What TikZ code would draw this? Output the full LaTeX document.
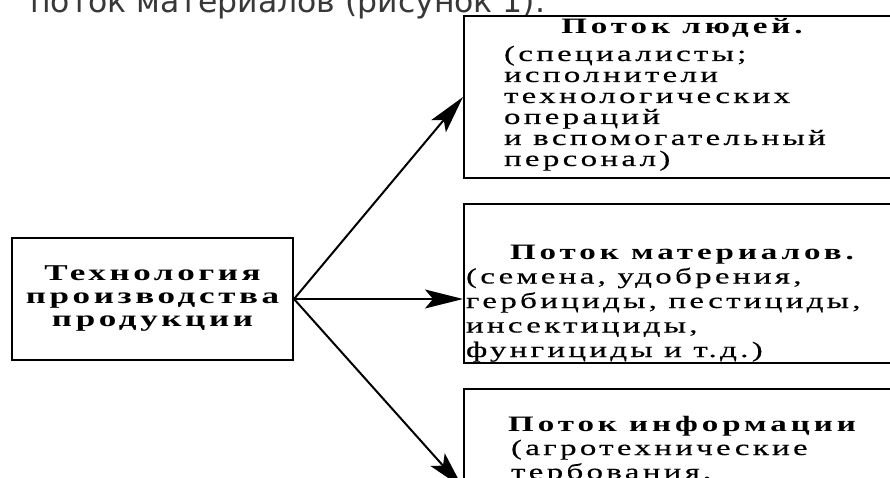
\documentclass[tikz,border=0pt]{standalone}
\usepackage{fontspec}
\setmainfont{Liberation Serif}
\newfontfamily\captionfont{DejaVu Sans}
\newfontfamily\flowfont[LetterSpace=15,FakeStretch=1.5,FakeBold=0.4]{Liberation Serif}
\newfontfamily\titlefont[LetterSpace=18,FakeStretch=1.5]{Liberation Serif}
\newfontfamily\techfont[LetterSpace=16,FakeStretch=1.55]{Liberation Serif}
\usetikzlibrary{arrows.meta,calc}

\tikzset{
  flowbox/.style={draw, line width=2pt, inner sep=0pt, anchor=north west},
  techbox/.style={draw, line width=2pt, inner sep=0pt, align=center,
    minimum width=281pt, minimum height=122pt,
    font=\techfont\bfseries\fontsize{22.6}{23}\selectfont},
  flowarrow/.style={line width=2pt, -{Stealth[length=38pt,width=19pt,inset=8pt]}},
}
\newcommand{\boxtitle}[1]{\makebox[436pt]{\titlefont\bfseries #1}}

\begin{document}
\begin{tikzpicture}[x=1pt,y=-1pt]
    \useasboundingbox (0,0) rectangle (890,478);
    \clip (0,0) rectangle (890,478);
    \node[anchor=base west, text=black!78, inner sep=0pt] (heading) at (30,12.5)
        {\captionfont\fontsize{31.5}{36}\selectfont поток материалов (рисунок 1).};
    \node[techbox] (tech) at (152.5,299) {Технология\\производства\\продукции};
    \node[flowbox] (people) at (463,15) {\parbox[t][162pt][t]{436pt}{%
        \flowfont\fontsize{22}{21}\selectfont
        \rule{0pt}{18pt}\boxtitle{Поток людей.}\\[6pt]
        \hspace*{40pt}(специалисты;\\
        \hspace*{40pt}исполнители\\
        \hspace*{40pt}технологических\\
        \hspace*{40pt}операций\\
        \hspace*{40pt}и вспомогательный\\
        \hspace*{40pt}персонал)}};
    \node[flowbox] (materials) at (463,203) {\parbox[t][159pt][t]{436pt}{%
        \flowfont\fontsize{22}{24.5}\selectfont
        \rule{0pt}{55pt}\boxtitle{Поток материалов.}\\
        \hspace*{2pt}(семена, удобрения,\\
        \hspace*{2pt}гербициды, пестициды,\\
        \hspace*{2pt}инсектициды,\\
        \hspace*{2pt}фунгициды и т.д.)}};
    \node[flowbox] (info) at (463,388) {\parbox[t][110pt][t]{436pt}{%
        \flowfont\fontsize{22}{24}\selectfont
        \rule{0pt}{42pt}\boxtitle{Поток информации}\\
        \hspace*{47pt}(агротехнические\\
        \hspace*{47pt}тербования,}};
    \draw[flowarrow] (tech.east) -- (people.west);
    \draw[flowarrow] (tech.east) -- (materials.west |- tech.east);
    \draw[flowarrow] (tech.east) -- ($(info.north west)+(0,100)$);
\end{tikzpicture}
\end{document}
